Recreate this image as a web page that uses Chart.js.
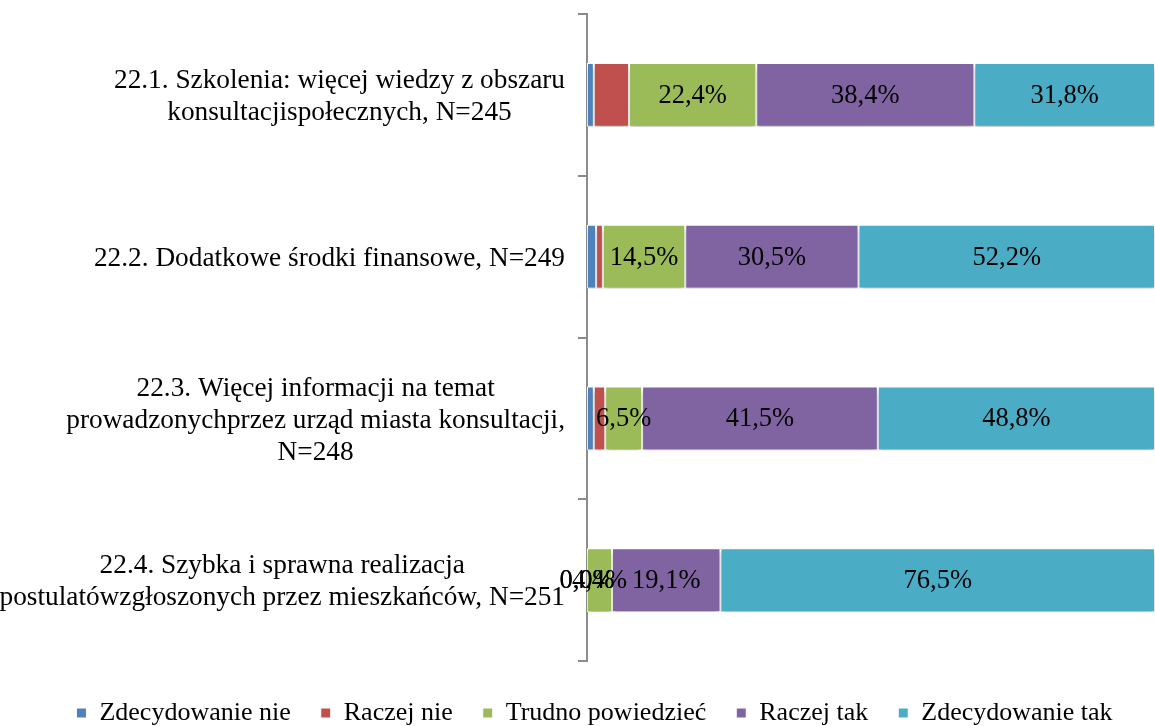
<!DOCTYPE html>
<html>
<head>
<meta charset="utf-8">
<script src="https://cdn.jsdelivr.net/npm/chart.js@4.4.0/dist/chart.umd.min.js"></script>
<style>
  html, body { margin: 0; padding: 0; background: #fff; overflow: hidden; }
</style>
</head>
<body>
<canvas id="chart" width="1155" height="726"></canvas>
<script>
// kategorie (linie podpisów osi)
const categories = [
    ['22.1. Szkolenia: więcej wiedzy z obszaru', 'konsultacjispołecznych, N=245'],
    ['22.2. Dodatkowe środki finansowe, N=249'],
    ['22.3. Więcej informacji na temat', 'prowadzonychprzez urząd miasta konsultacji,', 'N=248'],
    ['22.4. Szybka i sprawna realizacja', 'postulatówzgłoszonych przez mieszkańców, N=251']
];

const seriesNames = ['Zdecydowanie nie', 'Raczej nie', 'Trudno powiedzieć', 'Raczej tak', 'Zdecydowanie tak'];

// wartości w %
const zdecydowanieNie = [1.2, 1.6, 1.2, 0.0];
const raczejNie = [6.2, 1.2, 2.0, 0.0];
const trudnoPowiedziec = [22.4, 14.5, 6.5, 4.4];
const raczejTak = [38.4, 30.5, 41.5, 19.1];
const zdecydowanieTak = [31.8, 52.2, 48.8, 76.5];

const colors = ['#4F81BD', '#C0504D', '#9BBB59', '#8064A2', '#4BACC6'];
// serie bez etykiet (tylko zera są podpisane)
const unlabelledSeries = [0, 1];

const FONT = '"Liberation Serif", "Times New Roman", serif';
const LEGEND_PAD_LEFT = 34;

const values = [zdecydowanieNie, raczejNie, trudnoPowiedziec, raczejTak, zdecydowanieTak];

// cień pod słupkami
const shadowPlugin = {
    id: 'shadow',
    beforeDatasetsDraw(chart) {
        const ctx = chart.ctx;
        ctx.save();
        ctx.shadowColor = 'rgba(0,0,0,0.28)';
        ctx.shadowBlur = 5;
        ctx.shadowOffsetY = 4;
    },
    afterDatasetsDraw(chart) {
        chart.ctx.restore();
    }
};

// etykiety wartości + podpisy kategorii
const labelsPlugin = {
    id: 'labels',
    afterDraw(chart) {
        const ctx = chart.ctx;
        ctx.save();
        ctx.fillStyle = '#000';
        ctx.textBaseline = 'middle';
        ctx.textAlign = 'center';
        ctx.font = '26.5px ' + FONT;
        chart.data.datasets.forEach((ds, di) => {
            const meta = chart.getDatasetMeta(di);
            meta.data.forEach((bar, i) => {
                const v = ds.data[i];
                if (unlabelledSeries.includes(di) && v > 0) return;
                const p = bar.getProps(['x', 'base', 'y'], true);
                const cx = (p.x + p.base) / 2;
                ctx.fillText(v.toFixed(1).replace('.', ',') + '%', cx, p.y + 1);
            });
        });

        const yScale = chart.scales.y;
        ctx.font = '27.3px ' + FONT;
        const lineH = 32;
        const rightEdge = yScale.right - 22;
        categories.forEach((lines, i) => {
            const cy = yScale.getPixelForValue(i) + 2;
            const maxW = Math.max(...lines.map(l => ctx.measureText(l).width));
            const cx = rightEdge - maxW / 2;
            const y0 = cy - (lines.length - 1) * lineH / 2;
            lines.forEach((l, k) => ctx.fillText(l, cx, y0 + k * lineH));
        });
        ctx.restore();
    }
};

// legenda niżej (przesunięcie o 10px)
const legendShift = {
    id: 'legendShift',
    beforeLayout(chart) {
        const lg = chart.legend;
        if (lg && !lg._shifted) {
            const fit = lg.fit;
            lg.fit = function () {
                fit.call(this);
                this.height -= 10;
            };
            lg._shifted = true;
        }
    }
};

new Chart(document.getElementById('chart'), {
    type: 'bar',
    data: {
        labels: categories,
        datasets: seriesNames.map((name, i) => ({
            label: name,
            data: values[i],
            backgroundColor: colors[i],
            borderColor: '#ffffff',
            borderWidth: 1,
            borderSkipped: false,
            categoryPercentage: 1,
            barPercentage: 0.394
        }))
    },
    options: {
        indexAxis: 'y',
        responsive: false,
        animation: false,
        layout: { padding: { top: 14, right: 0, left: LEGEND_PAD_LEFT, bottom: 0 } },
        scales: {
            x: {
                stacked: true,
                min: 0,
                max: 100,
                display: true,
                ticks: { display: false },
                grid: { display: false, drawTicks: true, tickLength: 9 },
                border: { display: false }
            },
            y: {
                stacked: true,
                ticks: { display: false },
                grid: { drawOnChartArea: false, drawTicks: true, tickLength: 9, color: '#8c8c8c', lineWidth: 2 },
                border: { color: '#8c8c8c', width: 2 },
                afterFit(scale) { scale.width = 587 - LEGEND_PAD_LEFT; }
            }
        },
        plugins: {
            legend: {
                position: 'bottom',
                labels: {
                    boxWidth: 10,
                    boxHeight: 10,
                    padding: 30,
                    color: '#000',
                    font: { family: FONT, size: 26 }
                }
            },
            tooltip: { enabled: false }
        }
    },
    plugins: [shadowPlugin, labelsPlugin, legendShift]
});
</script>
</body>
</html>
